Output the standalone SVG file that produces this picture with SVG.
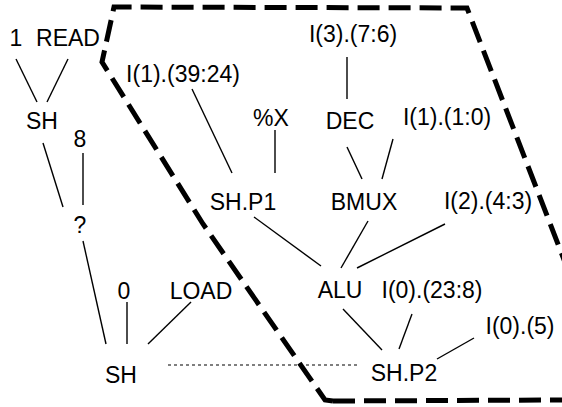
<svg xmlns="http://www.w3.org/2000/svg" width="562" height="407" viewBox="0 0 562 407">
<style>
text{font-family:"Liberation Sans",Arial,sans-serif;font-size:23px;fill:#000;text-anchor:middle}
.e{stroke:#000;stroke-width:1.4;fill:none}
.d{stroke:#000;stroke-width:1.2;stroke-dasharray:3 3;fill:none}
.b{stroke:#000;stroke-width:5;stroke-dasharray:22 9;fill:none}
</style>
<rect width="562" height="407" fill="#fff"/>
<path class="b" d="M333,401 L325,400 L203,224 L102,62 L114,7 L467,8 L620,405 M333,401 L562,400"/>
<g id="connectors">
<line class="e" x1="16" y1="59" x2="37" y2="102"/>
<line class="e" x1="68" y1="59" x2="47" y2="102"/>
<line class="e" x1="43" y1="143" x2="63" y2="207"/>
<line class="e" x1="83" y1="153" x2="83" y2="205"/>
<line class="e" x1="83" y1="241" x2="106" y2="344"/>
<line class="e" x1="127" y1="302" x2="127" y2="344"/>
<line class="e" x1="191" y1="302" x2="148" y2="344"/>
<line class="e" x1="192" y1="89" x2="232" y2="173"/>
<line class="e" x1="275" y1="130" x2="275" y2="173"/>
<line class="e" x1="347" y1="57" x2="347" y2="99"/>
<line class="e" x1="347" y1="147" x2="362" y2="179"/>
<line class="e" x1="393" y1="139" x2="382" y2="179"/>
<line class="e" x1="254" y1="217" x2="321" y2="266"/>
<line class="e" x1="368" y1="221" x2="341" y2="268"/>
<line class="e" x1="445" y1="224" x2="357" y2="268"/>
<line class="e" x1="343" y1="309" x2="382" y2="350"/>
<line class="e" x1="412" y1="314" x2="399" y2="349"/>
<line class="e" x1="474" y1="338" x2="437" y2="359"/>
<line class="d" x1="168" y1="365" x2="358" y2="365"/>
</g>
<g id="n1"><text x="16" y="46">1</text></g>
<g id="read"><text x="68" y="46">READ</text></g>
<g id="sh1"><text x="42" y="129">SH</text></g>
<g id="n8"><text x="80" y="147">8</text></g>
<g id="q"><text x="80" y="233">?</text></g>
<g id="n0"><text x="124" y="299">0</text></g>
<g id="load"><text x="201" y="299">LOAD</text></g>
<g id="sh2"><text x="121" y="383">SH</text></g>
<g id="i1a"><text x="183" y="82">I(1).(39:24)</text></g>
<g id="px"><text x="271" y="126">%X</text></g>
<g id="i3"><text x="353" y="42">I(3).(7:6)</text></g>
<g id="dec"><text x="350" y="129">DEC</text></g>
<g id="i1b"><text x="447" y="125">I(1).(1:0)</text></g>
<g id="shp1"><text x="243" y="210">SH.P1</text></g>
<g id="bmux"><text x="364" y="210">BMUX</text></g>
<g id="i2"><text x="488" y="209">I(2).(4:3)</text></g>
<g id="alu"><text x="340" y="298">ALU</text></g>
<g id="i0a"><text x="432" y="298">I(0).(23:8)</text></g>
<g id="i0b"><text x="520" y="334">I(0).(5)</text></g>
<g id="shp2"><text x="404" y="381">SH.P2</text></g>
</svg>
